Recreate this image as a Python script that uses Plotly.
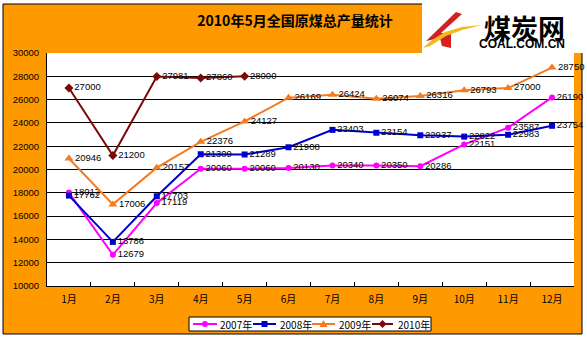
import plotly.graph_objects as go

months = ["1月", "2月", "3月", "4月", "5月", "6月", "7月", "8月", "9月", "10月", "11月", "12月"]
y2007 = [18017, 12679, 17119, 20060, 20060, 20130, 20340, 20350, 20286, 22151, 23587, 26190]
y2008 = [17762, 13786, 17703, 21309, 21289, 21908, 23403, 23154, 22937, 22822, 22983, 23754]
y2009 = [20946, 17006, 20157, 22376, 24127, 26169, 26424, 26074, 26316, 26793, 27000, 28750]
y2010 = [27000, 21200, 27981, 27860, 28000]
series_names = ["2007年", "2008年", "2009年", "2010年"]
title_text = "2010年5月全国原煤总产量统计"

W, H = 587, 338
L, R, T, B = 47, 574, 53, 286


def px(x):
    return (x - L) / (R - L)


def py(y):
    return (B - y) / (B - T)


ORANGE = "#FF9900"
series = [
    (series_names[0], y2007, "#FF00FF", "circle", 6),
    (series_names[1], y2008, "#0000CC", "square", 6),
    (series_names[2], y2009, "#F47B20", "triangle-up", 8),
    (series_names[3], y2010, "#7A0A0A", "diamond", 7),
]

fig = go.Figure()
for name, vals, color, sym, size in series:
    fig.add_trace(go.Scatter(
        x=months[:len(vals)], y=vals, name=name, mode="lines+markers+text",
        line=dict(color=color, width=2),
        marker=dict(symbol=sym, size=size, color=color),
        text=[str(v) for v in vals], textposition="middle right",
        textfont=dict(family="Liberation Sans, Arial", size=9.5, color="black"),
        cliponaxis=False, showlegend=False,
    ))


def path(points, close=True):
    s = "M " + " L ".join(f"{px(a):.5f},{py(b):.5f}" for a, b in points)
    return s + (" Z" if close else "")


shapes = [
    dict(type="rect", xref="paper", yref="paper", x0=px(3), x1=px(582), y0=py(334), y1=py(4),
         fillcolor=ORANGE, line=dict(color="black", width=1), layer="below"),
    dict(type="rect", xref="paper", yref="paper", x0=px(422), x1=px(587), y0=py(53), y1=py(0),
         fillcolor="white", line=dict(width=0), layer="below"),
    dict(type="rect", xref="paper", yref="paper", x0=px(47), x1=px(574), y0=py(286), y1=py(53),
         fillcolor="white", line=dict(width=0), layer="below"),
    # logo icon
    dict(type="path", xref="paper", yref="paper",
         path=path([(456, 12), (462, 14), (441, 33), (451, 33), (451, 48), (442, 46), (440, 38), (426, 41)]),
         fillcolor="#D42020", line=dict(width=0), layer="above"),
    dict(type="path", xref="paper", yref="paper",
         path=path([(423, 48), (432, 40), (445, 32), (462, 27), (482, 25), (462, 30), (446, 36), (430, 46)]),
         fillcolor="#F2B81C", line=dict(width=0), layer="above"),
    # legend box
    dict(type="rect", xref="paper", yref="paper", x0=px(189), x1=px(431), y0=py(331), y1=py(317),
         fillcolor="white", line=dict(color="black", width=1), layer="above"),
]

annotations = [
    dict(text="<b>煤炭网</b>", xref="paper", yref="paper", x=px(524), y=py(6),
         xanchor="center", yanchor="top", showarrow=False,
         font=dict(family="Noto Sans CJK SC", size=27, color="black")),
    dict(text="<b>COAL.COM.CN</b>", xref="paper", yref="paper", x=px(522), y=py(44),
         xanchor="center", yanchor="middle", showarrow=False,
         font=dict(family="Liberation Sans, Arial", size=12, color="black")),
]

# legend entries (line + marker + label)
leg_y = 324
leg_items = [(193, 217, 218), (253, 276, 278), (312, 335, 337), (372, 393, 396)]
for (name, vals, color, sym, size), (lx0, lx1, tx) in zip(series, leg_items):
    shapes.append(dict(type="line", xref="paper", yref="paper", x0=px(lx0), x1=px(lx1),
                       y0=py(leg_y), y1=py(leg_y), line=dict(color=color, width=2), layer="above"))
    cx = (lx0 + lx1) / 2
    if sym == "circle":
        shapes.append(dict(type="circle", xref="paper", yref="paper", x0=px(cx - 3), x1=px(cx + 3),
                           y0=py(leg_y + 3), y1=py(leg_y - 3), fillcolor=color, line=dict(width=0), layer="above"))
    elif sym == "square":
        shapes.append(dict(type="rect", xref="paper", yref="paper", x0=px(cx - 3), x1=px(cx + 3),
                           y0=py(leg_y + 3), y1=py(leg_y - 3), fillcolor=color, line=dict(width=0), layer="above"))
    elif sym == "triangle-up":
        shapes.append(dict(type="path", xref="paper", yref="paper",
                           path=path([(cx, leg_y - 4), (cx + 4, leg_y + 3), (cx - 4, leg_y + 3)]),
                           fillcolor=color, line=dict(width=0), layer="above"))
    else:
        shapes.append(dict(type="path", xref="paper", yref="paper",
                           path=path([(cx, leg_y - 4), (cx + 4, leg_y), (cx, leg_y + 4), (cx - 4, leg_y)]),
                           fillcolor=color, line=dict(width=0), layer="above"))
    annotations.append(dict(text=name, xref="paper", yref="paper", x=px(tx), y=py(leg_y),
                            xanchor="left", yanchor="middle", showarrow=False,
                            font=dict(family="Noto Sans CJK SC", size=10, color="black")))

fig.update_layout(
    width=W, height=H,
    margin=dict(l=L, r=W - R, t=T, b=H - B, pad=0, autoexpand=False),
    paper_bgcolor="white", plot_bgcolor="white",
    shapes=shapes, annotations=annotations,
    title=dict(text=f"<b>{title_text}</b>", xref="container", yref="container",
               x=295 / W, xanchor="center", y=1 - 21 / H, yanchor="middle",
               font=dict(family="Noto Sans CJK SC", size=14, color="black")),
    showlegend=False,
    font=dict(family="Noto Sans CJK SC", color="black"),
)
fig.update_xaxes(
    type="category", categoryorder="array", categoryarray=months, range=[-0.5, 11.5],
    showline=True, linecolor="black", linewidth=1, showgrid=False,
    ticks="inside", tickson="boundaries", ticklen=4, tickcolor="black",
    tickfont=dict(family="Noto Sans CJK SC", size=10, color="black"),
    ticklabelstandoff=4, fixedrange=True, automargin=False,
)
fig.update_yaxes(
    range=[10000, 30000], dtick=2000, tick0=10000, tickformat="d",
    showline=True, linecolor="black", linewidth=1,
    showgrid=True, gridcolor="black", gridwidth=1, zeroline=False,
    tickfont=dict(family="Liberation Sans, Arial", size=9.5, color="black"),
    ticklabelstandoff=5, fixedrange=True, automargin=False,
)

fig.write_html("out.html")
